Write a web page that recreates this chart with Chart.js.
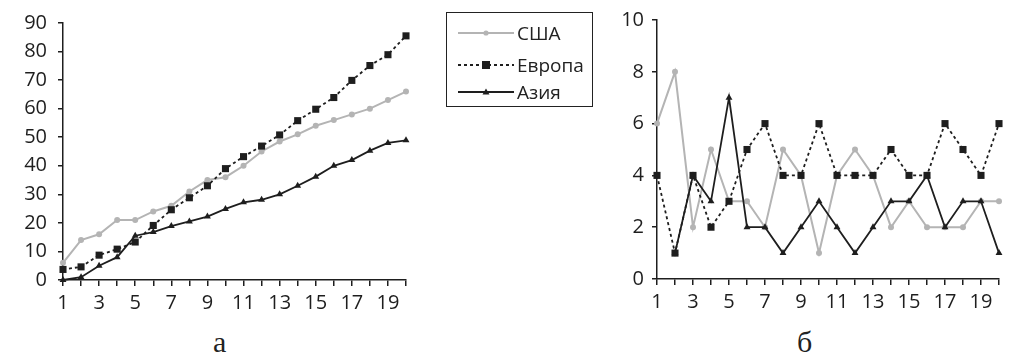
<!DOCTYPE html>
<html>
<head>
<meta charset="utf-8">
<script src="https://cdn.jsdelivr.net/npm/chart.js@4.4.1/dist/chart.umd.min.js"></script>
<style>
  html, body { margin: 0; padding: 0; background: #fff; }
  body { width: 1009px; height: 355px; overflow: hidden; position: relative; font-family: "Open Sans", sans-serif; color: #222; }
  .wrap { position: absolute; top: 0; height: 312px; }
  #wa { left: 0; width: 430px; }
  #wb { left: 590px; width: 419px; }
  #legend { position: absolute; left: 446px; top: 12px; width: 147px; height: 95px; border: 1.5px solid #222; box-sizing: border-box; }
  .row { position: absolute; left: 11px; height: 24px; display: flex; align-items: center; font-size: 19px; white-space: nowrap; }
  .row svg { margin-right: 3px; }
  .cap { position: absolute; top: 325px; font-family: "Liberation Serif", serif; font-size: 30px; color: #222; }
</style>
</head>
<body>
<div class="wrap" id="wa"><canvas id="ca"></canvas></div>
<div class="wrap" id="wb"><canvas id="cb"></canvas></div>
<div id="legend"></div>
<div class="cap" style="left:213px">а</div>
<div class="cap" style="left:797px">б</div>
<script>
// Years
const years = ['1','2','3','4','5','6','7','8','9','10','11','12','13','14','15','16','17','18','19','20'];
const seriesNames = ['США', 'Европа', 'Азия'];

// Cumulative totals (panel а)
const usaTotal    = [6, 14, 16, 21, 21, 24, 26, 31, 35, 36, 40, 45, 48.5, 51, 54, 56, 58, 60, 63, 66];
const europeTotal = [3.7, 4.6, 8.7, 10.8, 13.3, 19.1, 24.6, 28.8, 33, 39, 43.2, 46.9, 50.8, 55.8, 59.8, 63.9, 69.9, 75.1, 78.9, 85.5];
const asiaTotal   = [0, 1, 5, 8, 15.5, 16.8, 18.9, 20.5, 22.2, 24.9, 27.2, 28.1, 30, 33, 36.2, 40, 42, 45.3, 48, 48.9];

// Yearly values (panel б)
const usaYearly    = [6, 8, 2, 5, 3, 3, 2, 5, 4, 1, 4, 5, 4, 2, 3, 2, 2, 2, 3, 3];
const europeYearly = [4, 1, 4, 2, 3, 5, 6, 4, 4, 6, 4, 4, 4, 5, 4, 4, 6, 5, 4, 6];
const asiaYearly   = [null, 1, 4, 3, 7, 2, 2, 1, 2, 3, 2, 1, 2, 3, 3, 4, 2, 3, 3, 1];

const INK = '#1e1e1e';
const GRAY = '#b4b4b4';

const styles = [
  { color: GRAY, dash: [], point: 'circle', radius: 3, width: 2, order: 3 },
  { color: INK, dash: [3, 3], point: 'rect', radius: 5, width: 1.8, order: 1 },
  { color: INK, dash: [], point: 'triangle', radius: 4, width: 1.8, order: 2 }
];

function makeDatasets(arrs) {
  return arrs.map((d, i) => ({
    label: seriesNames[i],
    data: d,
    borderColor: styles[i].color,
    backgroundColor: styles[i].color,
    borderWidth: styles[i].width,
    borderDash: styles[i].dash,
    pointStyle: styles[i].point,
    pointRadius: styles[i].radius,
    pointBackgroundColor: styles[i].color,
    pointBorderColor: styles[i].color,
    pointBorderWidth: 0,
    tension: 0,
    spanGaps: false,
    clip: false,
    order: styles[i].order
  }));
}

function makeOptions(yMax, yStep, yWidth, yPad, xHeight, padTop, padRight) {
  return {
    responsive: true,
    maintainAspectRatio: false,
    animation: false,
    events: [],
    layout: { padding: { left: 0, top: padTop, right: padRight, bottom: 0 } },
    plugins: { legend: { display: false }, tooltip: { enabled: false } },
    scales: {
      x: {
        type: 'category',
        offset: false,
        border: { display: true, color: INK, width: 1.5 },
        grid: { drawOnChartArea: false, drawTicks: true, tickLength: 6, color: INK, lineWidth: 1.5 },
        ticks: {
          autoSkip: false, maxRotation: 0, padding: 5, color: INK,
          font: { family: 'Open Sans', size: 20 },
          callback: function (v, i) { return i % 2 === 0 ? this.getLabelForValue(v) : ''; }
        },
        afterFit: s => { s.height = xHeight; }
      },
      y: {
        min: 0, max: yMax,
        border: { display: true, color: INK, width: 1.5 },
        grid: { drawOnChartArea: false, drawTicks: true, tickLength: 5, color: INK, lineWidth: 1.5 },
        ticks: { stepSize: yStep, padding: yPad, color: INK, font: { family: 'Open Sans', size: 20 } },
        afterFit: s => { s.width = yWidth; }
      }
    }
  };
}

new Chart(document.getElementById('ca'), {
  type: 'line',
  data: { labels: years, datasets: makeDatasets([usaTotal, europeTotal, asiaTotal]) },
  options: makeOptions(90, 10, 63, 11, 32, 21, 24)
});

new Chart(document.getElementById('cb'), {
  type: 'line',
  data: { labels: years, datasets: makeDatasets([usaYearly, europeYearly, asiaYearly]) },
  options: makeOptions(10, 2, 67, 8, 33, 20, 10)
});

// Legend: line sample with marker, then series name
const legend = document.getElementById('legend');
const rowTops = [8, 40, 67];
seriesNames.forEach((name, i) => {
  const st = styles[i];
  const row = document.createElement('div');
  row.className = 'row';
  row.style.top = rowTops[i] + 'px';
  let marker = '';
  if (st.point === 'circle') marker = `<circle cx="28" cy="6" r="2.6" fill="${st.color}"/>`;
  else if (st.point === 'rect') marker = `<rect x="24" y="2" width="8" height="8" fill="${st.color}"/>`;
  else marker = `<polygon points="28,2.5 31.5,8.5 24.5,8.5" fill="${st.color}"/>`;
  const dash = st.dash.length ? `stroke-dasharray="${st.dash.join(' ')}"` : '';
  row.innerHTML = `<svg width="56" height="12"><line x1="0" y1="6" x2="56" y2="6" stroke="${st.color}" stroke-width="${st.width}" ${dash}/>${marker}</svg><span>${name}</span>`;
  legend.appendChild(row);
});
</script>
</body>
</html>
